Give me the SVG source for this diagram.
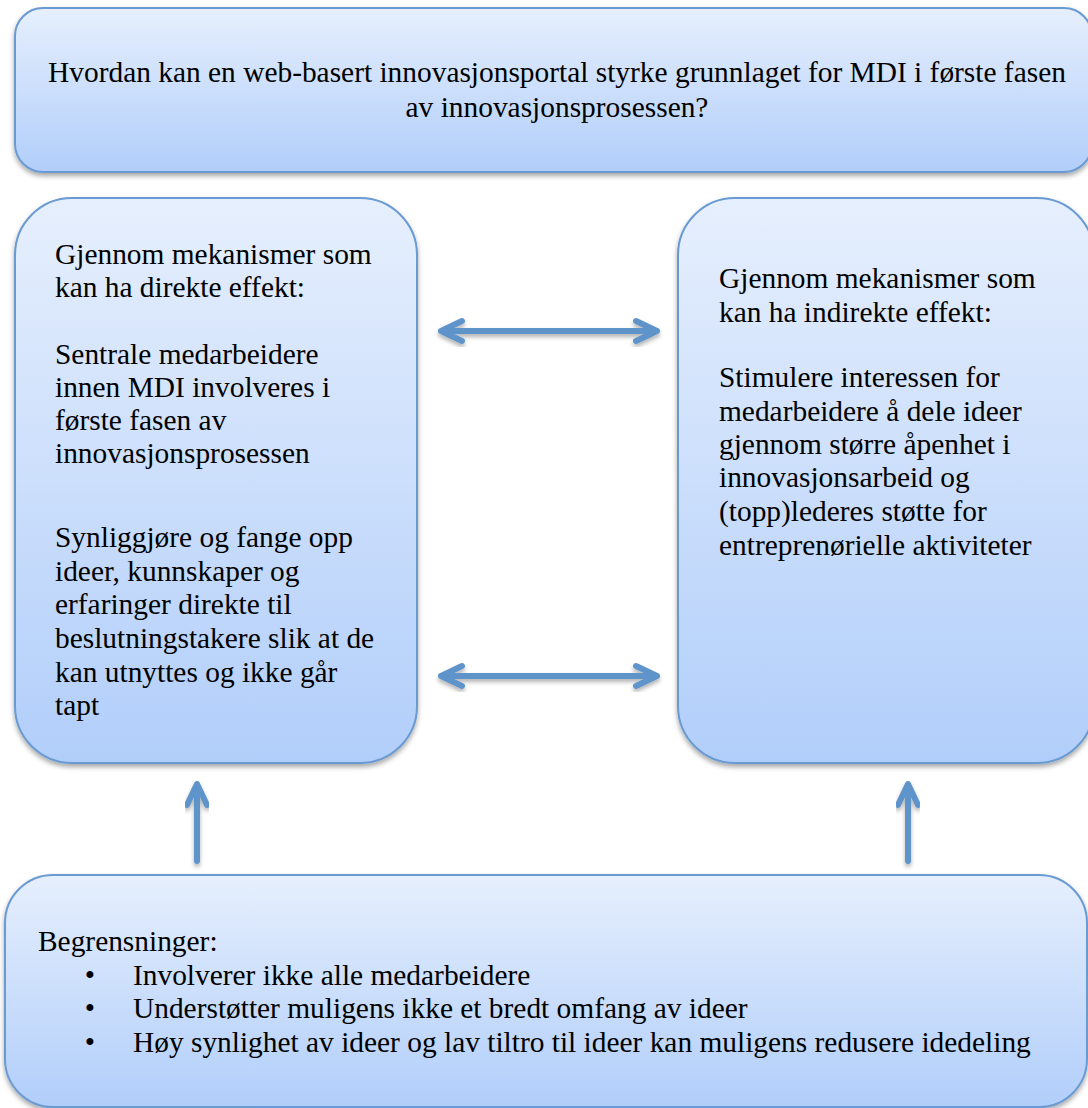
<svg xmlns="http://www.w3.org/2000/svg" width="1088" height="1108" viewBox="0 0 1088 1108">
<defs>
<linearGradient id="g" x1="0" y1="0" x2="0" y2="1">
<stop offset="0" stop-color="#e6effd"/>
<stop offset="1" stop-color="#b1cefa"/>
</linearGradient>
<filter id="sh" x="-5%" y="-5%" width="110%" height="115%">
<feDropShadow dx="0" dy="3" stdDeviation="2.5" flood-color="#000" flood-opacity="0.35"/>
</filter>
<filter id="ash" x="-10%" y="-30%" width="120%" height="160%">
<feDropShadow dx="0" dy="3" stdDeviation="2" flood-color="#000" flood-opacity="0.3"/>
</filter>
</defs>
<style>
.box{fill:url(#g);stroke:#6a9ad2;stroke-width:2;filter:url(#sh)}
.t{font-size:29.4px;fill:#000}
.c{text-anchor:middle}
.arr{fill:none;stroke:#5f94cb;stroke-width:6;stroke-linecap:round;stroke-linejoin:round;filter:url(#ash)}
</style>
<rect width="1088" height="1108" fill="#fff"/>
<g font-family="'Liberation Serif', 'DejaVu Serif', serif">
<g id="question">
<rect class="box" x="15" y="8" width="1077" height="164" rx="28"/>
<text class="t c" x="557" y="82">Hvordan kan en web-basert innovasjonsportal styrke grunnlaget for MDI i første fasen</text>
<text class="t c" x="557" y="117">av innovasjonsprosessen?</text>
</g>
<g id="direct">
<rect class="box" x="15" y="198" width="402" height="565" rx="57"/>
<text class="t" x="55" y="264">Gjennom mekanismer som</text>
<text class="t" x="55" y="297">kan ha direkte effekt:</text>
<text class="t" x="55" y="364">Sentrale medarbeidere</text>
<text class="t" x="55" y="397">innen MDI involveres i</text>
<text class="t" x="55" y="430">første fasen av</text>
<text class="t" x="55" y="463">innovasjonsprosessen</text>
<text class="t" x="55" y="547">Synliggjøre og fange opp</text>
<text class="t" x="55" y="581">ideer, kunnskaper og</text>
<text class="t" x="55" y="614">erfaringer direkte til</text>
<text class="t" x="55" y="648">beslutningstakere slik at de</text>
<text class="t" x="55" y="682">kan utnyttes og ikke går</text>
<text class="t" x="55" y="715">tapt</text>
</g>
<g id="indirect">
<rect class="box" x="678" y="198" width="416" height="565" rx="57"/>
<text class="t" x="719" y="288">Gjennom mekanismer som</text>
<text class="t" x="719" y="322">kan ha indirekte effekt:</text>
<text class="t" x="719" y="387">Stimulere interessen for</text>
<text class="t" x="719" y="421">medarbeidere å dele ideer</text>
<text class="t" x="719" y="454">gjennom større åpenhet i</text>
<text class="t" x="719" y="487">innovasjonsarbeid og</text>
<text class="t" x="719" y="521">(topp)lederes støtte for</text>
<text class="t" x="719" y="555">entreprenørielle aktiviteter</text>
</g>
<g id="limits">
<rect class="box" x="5" y="875" width="1082" height="232" rx="48"/>
<text class="t" x="38" y="951">Begrensninger:</text>
<text class="t c" x="90" y="985">•</text>
<text class="t" x="133" y="985">Involverer ikke alle medarbeidere</text>
<text class="t c" x="90" y="1018">•</text>
<text class="t" x="133" y="1018">Understøtter muligens ikke et bredt omfang av ideer</text>
<text class="t c" x="90" y="1052">•</text>
<text class="t" x="133" y="1052">Høy synlighet av ideer og lav tiltro til ideer kan muligens redusere idedeling</text>
</g>
</g>
<g id="connectors">
<path class="arr" d="M441,331 H657 M462,321 L441,331 L462,341 M636,321 L657,331 L636,341"/>
<path class="arr" d="M441,676 H657 M462,666 L441,676 L462,686 M636,666 L657,676 L636,686"/>
<path class="arr" d="M197,861 V785 M187,805 L197,784 L207,805"/>
<path class="arr" d="M908,861 V785 M898,805 L908,784 L918,805"/>
</g>
</svg>
